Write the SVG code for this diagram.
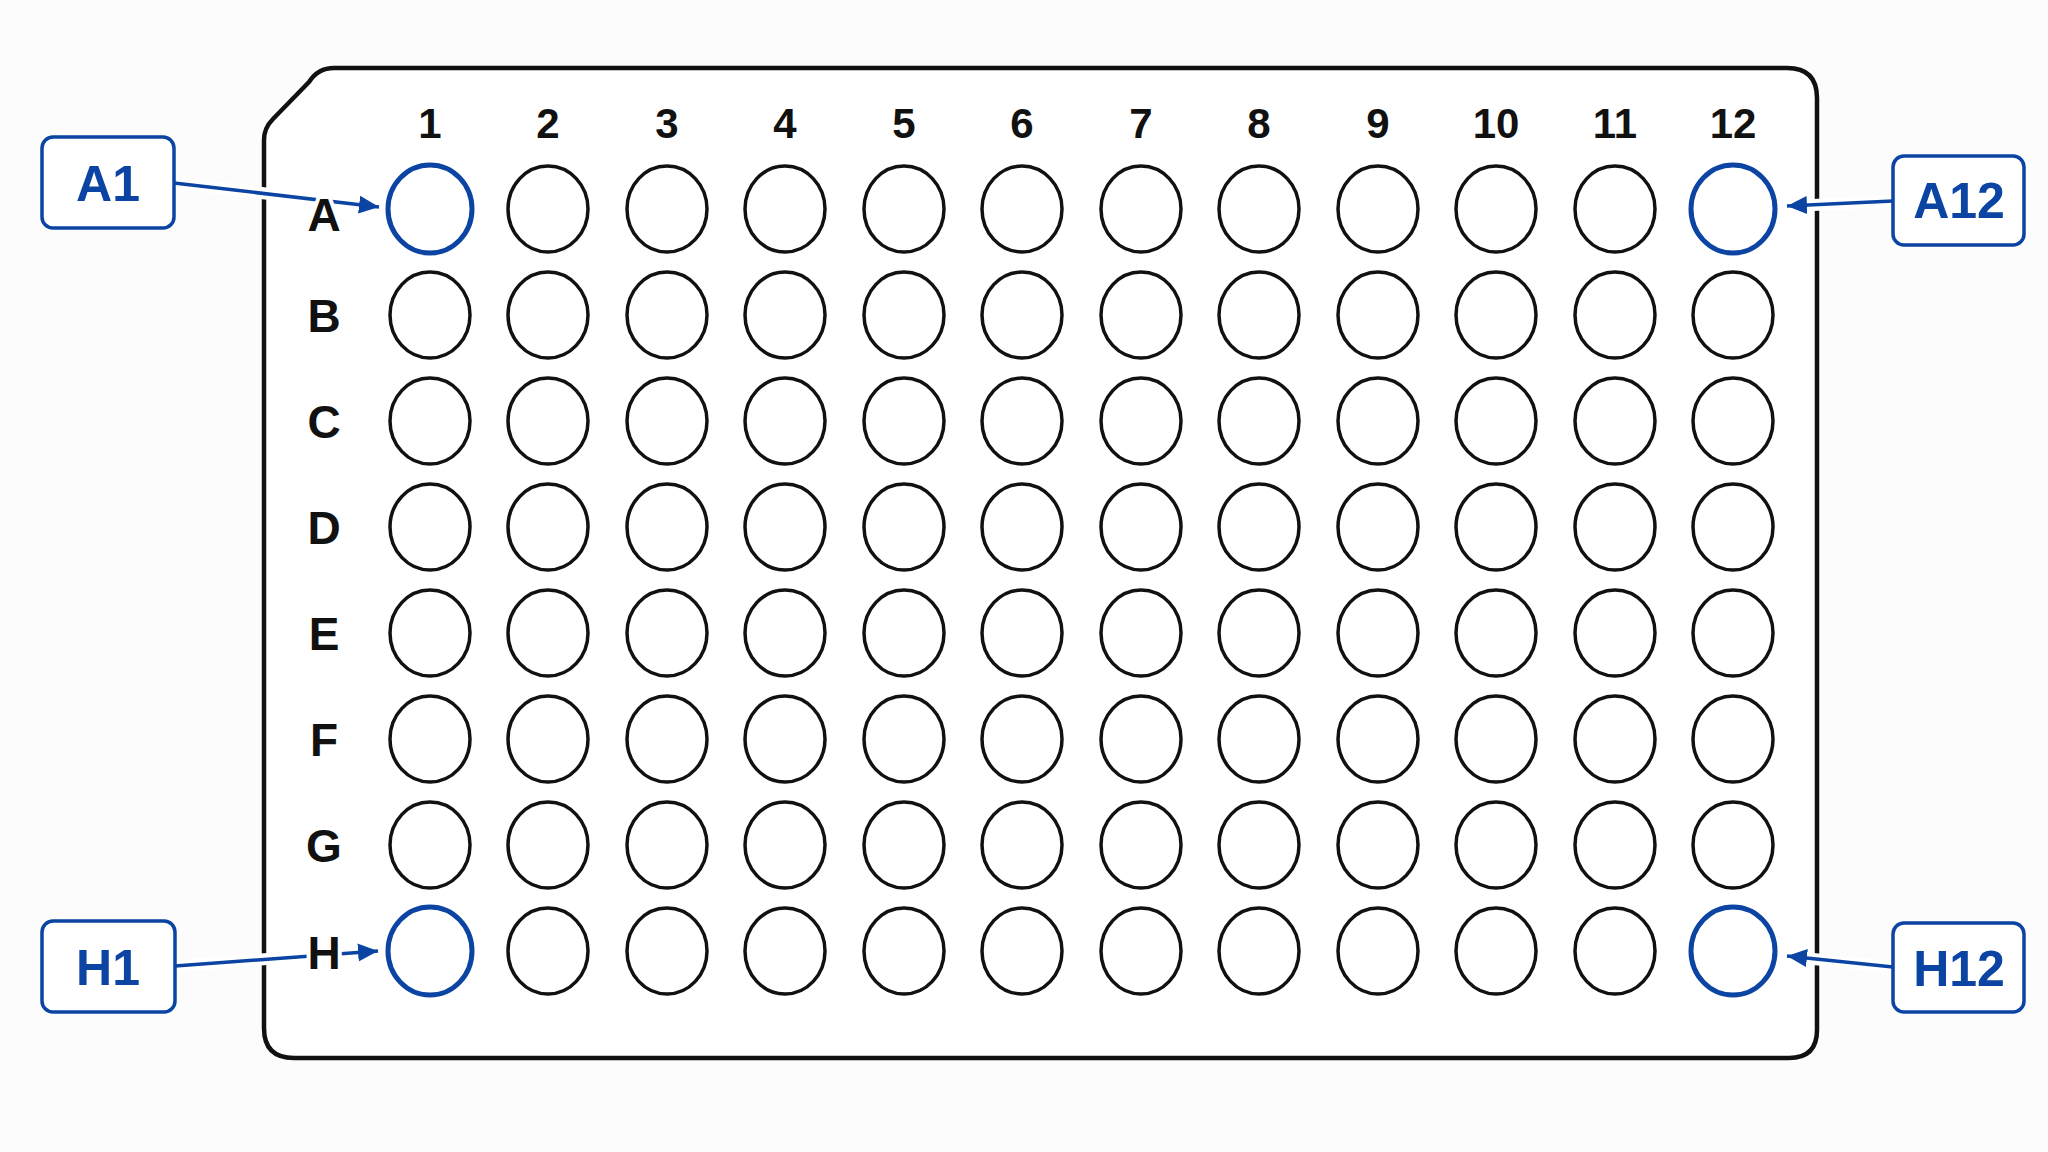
<svg xmlns="http://www.w3.org/2000/svg" width="2048" height="1152" viewBox="0 0 2048 1152">
<defs>
<style>
.bg{fill:#fcfcfc}
.plate{fill:#ffffff;stroke:#111111;stroke-width:4.5;stroke-linejoin:round}
.well{fill:#ffffff;stroke:#111111;stroke-width:3.5}
.hl{fill:#ffffff;stroke:#0b44a3;stroke-width:5}
.col{font-family:"Liberation Sans",Arial,sans-serif;font-weight:bold;font-size:42px;fill:#111111;text-anchor:middle}
.row{font-family:"Liberation Sans",Arial,sans-serif;font-weight:bold;font-size:46px;fill:#111111;text-anchor:middle;stroke:#ffffff;stroke-width:8;paint-order:stroke;stroke-linejoin:round}
.box{fill:#ffffff;stroke:#0b44a3;stroke-width:3.5}
.boxt{font-family:"Liberation Sans",Arial,sans-serif;font-weight:bold;font-size:50px;fill:#0b44a3;text-anchor:middle}
.casing{stroke:#ffffff;stroke-width:12;fill:none}
.conn{stroke:#0b44a3;stroke-width:3.5;fill:none;marker-end:url(#arrow)}
</style>
<marker id="arrow" markerUnits="userSpaceOnUse" markerWidth="22" markerHeight="20" refX="20" refY="9" orient="auto">
<path d="M0,0 L20,9 L0,18 Z" fill="#0b44a3"/>
</marker>
</defs>
<rect class="bg" x="0" y="0" width="2048" height="1152"/>
<g id="plate">
<path class="plate" d="M264,140 Q264,128 273,119 L309,82 Q318,68 334,68 L1787,68 Q1817,68 1817,98 L1817,1030 Q1817,1058 1789,1058 L294,1058 Q264,1058 264,1028 Z"/>
</g>
<g id="connectors">
<line class="casing" x1="176" y1="183" x2="372" y2="206"/>
<line class="casing" x1="1891" y1="201" x2="1794" y2="206"/>
<line class="casing" x1="177" y1="966" x2="371" y2="951"/>
<line class="casing" x1="1891" y1="967" x2="1794" y2="957"/>
<line class="conn" x1="174" y1="183" x2="379" y2="207"/>
<line class="conn" x1="1893" y1="201" x2="1787" y2="206"/>
<line class="conn" x1="175" y1="966" x2="378" y2="951"/>
<line class="conn" x1="1893" y1="967" x2="1787" y2="956"/>
</g>
<g id="column-labels">
<text class="col" x="430" y="138">1</text>
<text class="col" x="548" y="138">2</text>
<text class="col" x="667" y="138">3</text>
<text class="col" x="785" y="138">4</text>
<text class="col" x="904" y="138">5</text>
<text class="col" x="1022" y="138">6</text>
<text class="col" x="1141" y="138">7</text>
<text class="col" x="1259" y="138">8</text>
<text class="col" x="1378" y="138">9</text>
<text class="col" x="1496" y="138">10</text>
<text class="col" x="1615" y="138">11</text>
<text class="col" x="1733" y="138">12</text>
</g>
<g id="row-labels">
<text class="row" x="324" y="231">A</text>
<text class="row" x="324" y="332">B</text>
<text class="row" x="324" y="438">C</text>
<text class="row" x="324" y="544">D</text>
<text class="row" x="324" y="650">E</text>
<text class="row" x="324" y="756">F</text>
<text class="row" x="324" y="862">G</text>
<text class="row" x="324" y="969">H</text>
</g>
<g id="wells">
<g id="row-A">
<ellipse id="well-A1" class="hl" cx="430" cy="209" rx="42" ry="44"/>
<ellipse id="well-A2" class="well" cx="548" cy="209" rx="40" ry="43"/>
<ellipse id="well-A3" class="well" cx="667" cy="209" rx="40" ry="43"/>
<ellipse id="well-A4" class="well" cx="785" cy="209" rx="40" ry="43"/>
<ellipse id="well-A5" class="well" cx="904" cy="209" rx="40" ry="43"/>
<ellipse id="well-A6" class="well" cx="1022" cy="209" rx="40" ry="43"/>
<ellipse id="well-A7" class="well" cx="1141" cy="209" rx="40" ry="43"/>
<ellipse id="well-A8" class="well" cx="1259" cy="209" rx="40" ry="43"/>
<ellipse id="well-A9" class="well" cx="1378" cy="209" rx="40" ry="43"/>
<ellipse id="well-A10" class="well" cx="1496" cy="209" rx="40" ry="43"/>
<ellipse id="well-A11" class="well" cx="1615" cy="209" rx="40" ry="43"/>
<ellipse id="well-A12" class="hl" cx="1733" cy="209" rx="42" ry="44"/>
</g>
<g id="row-B">
<ellipse id="well-B1" class="well" cx="430" cy="315" rx="40" ry="43"/>
<ellipse id="well-B2" class="well" cx="548" cy="315" rx="40" ry="43"/>
<ellipse id="well-B3" class="well" cx="667" cy="315" rx="40" ry="43"/>
<ellipse id="well-B4" class="well" cx="785" cy="315" rx="40" ry="43"/>
<ellipse id="well-B5" class="well" cx="904" cy="315" rx="40" ry="43"/>
<ellipse id="well-B6" class="well" cx="1022" cy="315" rx="40" ry="43"/>
<ellipse id="well-B7" class="well" cx="1141" cy="315" rx="40" ry="43"/>
<ellipse id="well-B8" class="well" cx="1259" cy="315" rx="40" ry="43"/>
<ellipse id="well-B9" class="well" cx="1378" cy="315" rx="40" ry="43"/>
<ellipse id="well-B10" class="well" cx="1496" cy="315" rx="40" ry="43"/>
<ellipse id="well-B11" class="well" cx="1615" cy="315" rx="40" ry="43"/>
<ellipse id="well-B12" class="well" cx="1733" cy="315" rx="40" ry="43"/>
</g>
<g id="row-C">
<ellipse id="well-C1" class="well" cx="430" cy="421" rx="40" ry="43"/>
<ellipse id="well-C2" class="well" cx="548" cy="421" rx="40" ry="43"/>
<ellipse id="well-C3" class="well" cx="667" cy="421" rx="40" ry="43"/>
<ellipse id="well-C4" class="well" cx="785" cy="421" rx="40" ry="43"/>
<ellipse id="well-C5" class="well" cx="904" cy="421" rx="40" ry="43"/>
<ellipse id="well-C6" class="well" cx="1022" cy="421" rx="40" ry="43"/>
<ellipse id="well-C7" class="well" cx="1141" cy="421" rx="40" ry="43"/>
<ellipse id="well-C8" class="well" cx="1259" cy="421" rx="40" ry="43"/>
<ellipse id="well-C9" class="well" cx="1378" cy="421" rx="40" ry="43"/>
<ellipse id="well-C10" class="well" cx="1496" cy="421" rx="40" ry="43"/>
<ellipse id="well-C11" class="well" cx="1615" cy="421" rx="40" ry="43"/>
<ellipse id="well-C12" class="well" cx="1733" cy="421" rx="40" ry="43"/>
</g>
<g id="row-D">
<ellipse id="well-D1" class="well" cx="430" cy="527" rx="40" ry="43"/>
<ellipse id="well-D2" class="well" cx="548" cy="527" rx="40" ry="43"/>
<ellipse id="well-D3" class="well" cx="667" cy="527" rx="40" ry="43"/>
<ellipse id="well-D4" class="well" cx="785" cy="527" rx="40" ry="43"/>
<ellipse id="well-D5" class="well" cx="904" cy="527" rx="40" ry="43"/>
<ellipse id="well-D6" class="well" cx="1022" cy="527" rx="40" ry="43"/>
<ellipse id="well-D7" class="well" cx="1141" cy="527" rx="40" ry="43"/>
<ellipse id="well-D8" class="well" cx="1259" cy="527" rx="40" ry="43"/>
<ellipse id="well-D9" class="well" cx="1378" cy="527" rx="40" ry="43"/>
<ellipse id="well-D10" class="well" cx="1496" cy="527" rx="40" ry="43"/>
<ellipse id="well-D11" class="well" cx="1615" cy="527" rx="40" ry="43"/>
<ellipse id="well-D12" class="well" cx="1733" cy="527" rx="40" ry="43"/>
</g>
<g id="row-E">
<ellipse id="well-E1" class="well" cx="430" cy="633" rx="40" ry="43"/>
<ellipse id="well-E2" class="well" cx="548" cy="633" rx="40" ry="43"/>
<ellipse id="well-E3" class="well" cx="667" cy="633" rx="40" ry="43"/>
<ellipse id="well-E4" class="well" cx="785" cy="633" rx="40" ry="43"/>
<ellipse id="well-E5" class="well" cx="904" cy="633" rx="40" ry="43"/>
<ellipse id="well-E6" class="well" cx="1022" cy="633" rx="40" ry="43"/>
<ellipse id="well-E7" class="well" cx="1141" cy="633" rx="40" ry="43"/>
<ellipse id="well-E8" class="well" cx="1259" cy="633" rx="40" ry="43"/>
<ellipse id="well-E9" class="well" cx="1378" cy="633" rx="40" ry="43"/>
<ellipse id="well-E10" class="well" cx="1496" cy="633" rx="40" ry="43"/>
<ellipse id="well-E11" class="well" cx="1615" cy="633" rx="40" ry="43"/>
<ellipse id="well-E12" class="well" cx="1733" cy="633" rx="40" ry="43"/>
</g>
<g id="row-F">
<ellipse id="well-F1" class="well" cx="430" cy="739" rx="40" ry="43"/>
<ellipse id="well-F2" class="well" cx="548" cy="739" rx="40" ry="43"/>
<ellipse id="well-F3" class="well" cx="667" cy="739" rx="40" ry="43"/>
<ellipse id="well-F4" class="well" cx="785" cy="739" rx="40" ry="43"/>
<ellipse id="well-F5" class="well" cx="904" cy="739" rx="40" ry="43"/>
<ellipse id="well-F6" class="well" cx="1022" cy="739" rx="40" ry="43"/>
<ellipse id="well-F7" class="well" cx="1141" cy="739" rx="40" ry="43"/>
<ellipse id="well-F8" class="well" cx="1259" cy="739" rx="40" ry="43"/>
<ellipse id="well-F9" class="well" cx="1378" cy="739" rx="40" ry="43"/>
<ellipse id="well-F10" class="well" cx="1496" cy="739" rx="40" ry="43"/>
<ellipse id="well-F11" class="well" cx="1615" cy="739" rx="40" ry="43"/>
<ellipse id="well-F12" class="well" cx="1733" cy="739" rx="40" ry="43"/>
</g>
<g id="row-G">
<ellipse id="well-G1" class="well" cx="430" cy="845" rx="40" ry="43"/>
<ellipse id="well-G2" class="well" cx="548" cy="845" rx="40" ry="43"/>
<ellipse id="well-G3" class="well" cx="667" cy="845" rx="40" ry="43"/>
<ellipse id="well-G4" class="well" cx="785" cy="845" rx="40" ry="43"/>
<ellipse id="well-G5" class="well" cx="904" cy="845" rx="40" ry="43"/>
<ellipse id="well-G6" class="well" cx="1022" cy="845" rx="40" ry="43"/>
<ellipse id="well-G7" class="well" cx="1141" cy="845" rx="40" ry="43"/>
<ellipse id="well-G8" class="well" cx="1259" cy="845" rx="40" ry="43"/>
<ellipse id="well-G9" class="well" cx="1378" cy="845" rx="40" ry="43"/>
<ellipse id="well-G10" class="well" cx="1496" cy="845" rx="40" ry="43"/>
<ellipse id="well-G11" class="well" cx="1615" cy="845" rx="40" ry="43"/>
<ellipse id="well-G12" class="well" cx="1733" cy="845" rx="40" ry="43"/>
</g>
<g id="row-H">
<ellipse id="well-H1" class="hl" cx="430" cy="951" rx="42" ry="44"/>
<ellipse id="well-H2" class="well" cx="548" cy="951" rx="40" ry="43"/>
<ellipse id="well-H3" class="well" cx="667" cy="951" rx="40" ry="43"/>
<ellipse id="well-H4" class="well" cx="785" cy="951" rx="40" ry="43"/>
<ellipse id="well-H5" class="well" cx="904" cy="951" rx="40" ry="43"/>
<ellipse id="well-H6" class="well" cx="1022" cy="951" rx="40" ry="43"/>
<ellipse id="well-H7" class="well" cx="1141" cy="951" rx="40" ry="43"/>
<ellipse id="well-H8" class="well" cx="1259" cy="951" rx="40" ry="43"/>
<ellipse id="well-H9" class="well" cx="1378" cy="951" rx="40" ry="43"/>
<ellipse id="well-H10" class="well" cx="1496" cy="951" rx="40" ry="43"/>
<ellipse id="well-H11" class="well" cx="1615" cy="951" rx="40" ry="43"/>
<ellipse id="well-H12" class="hl" cx="1733" cy="951" rx="42" ry="44"/>
</g>
</g>
<g id="label-A1">
<rect class="box" x="42" y="137" width="132" height="91" rx="11"/>
<text class="boxt" x="108" y="201">A1</text>
</g>
<g id="label-A12">
<rect class="box" x="1893" y="156" width="131" height="89" rx="11"/>
<text class="boxt" x="1959" y="218">A12</text>
</g>
<g id="label-H1">
<rect class="box" x="42" y="921" width="133" height="91" rx="11"/>
<text class="boxt" x="108" y="985">H1</text>
</g>
<g id="label-H12">
<rect class="box" x="1893" y="923" width="131" height="89" rx="11"/>
<text class="boxt" x="1959" y="986">H12</text>
</g>
</svg>
